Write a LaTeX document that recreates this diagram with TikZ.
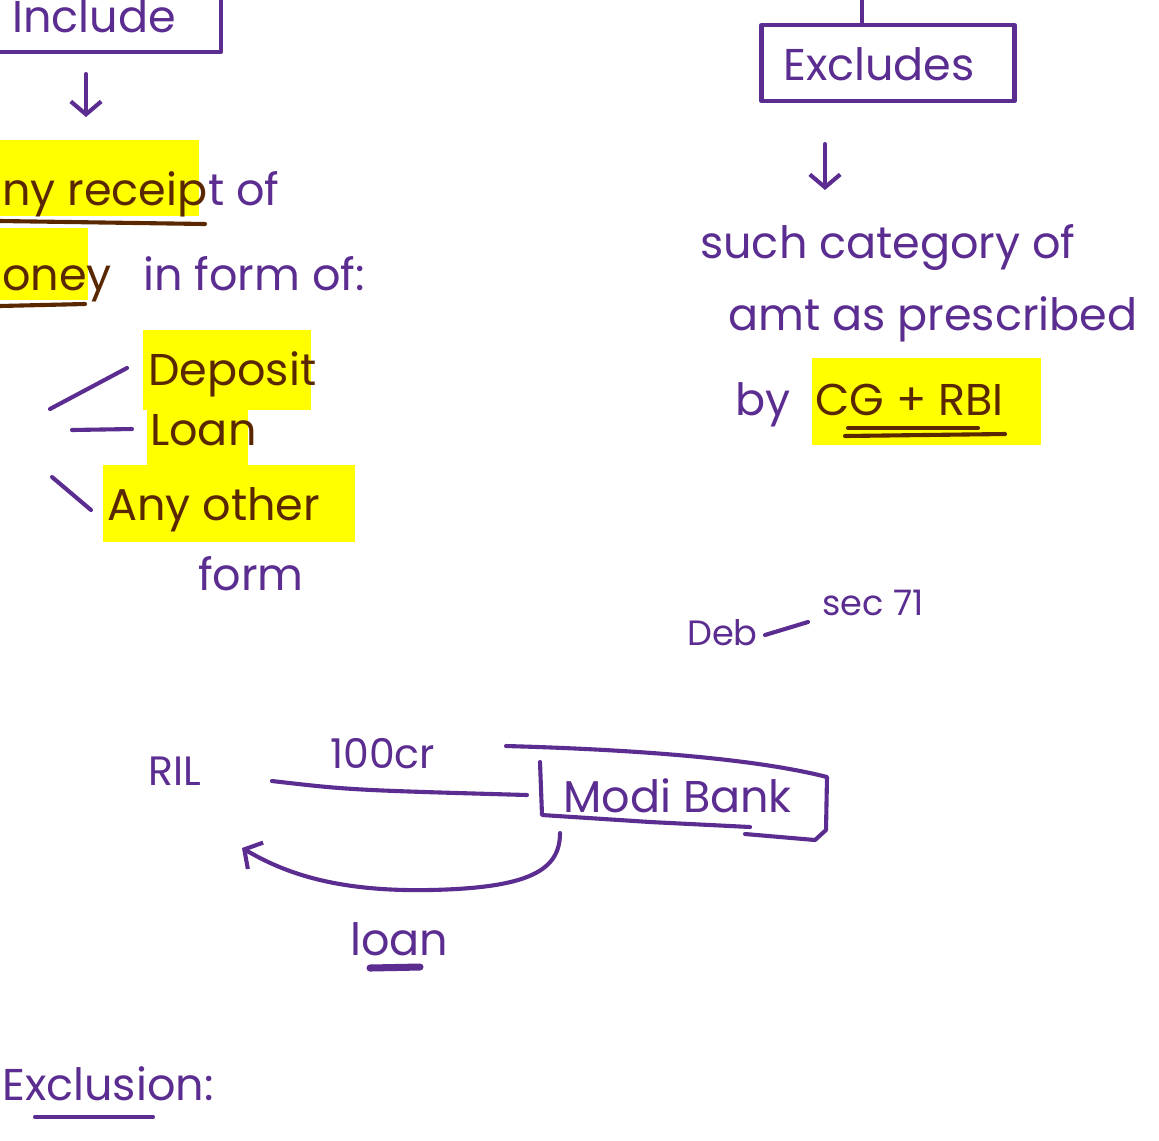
\documentclass[tikz,border=0pt]{standalone}
\usepackage{fontspec}
\setmainfont{Poppins}
\usetikzlibrary{arrows.meta}
\definecolor{ink}{RGB}{92,45,145}
\definecolor{brownink}{RGB}{90,40,0}
\definecolor{hlyellow}{RGB}{255,255,0}

\begin{document}
\begin{tikzpicture}[x=0.03cm,y=-0.03cm,
  pen/.style={draw=ink,line width=3.5pt,line cap=round,line join=round},
  brownpen/.style={draw=brownink,line width=3.5pt,line cap=round},
  txt/.style={text=ink,font=\fontsize{38}{44}\selectfont,inner sep=0pt,anchor=base west},
  small/.style={txt,font=\fontsize{30}{36}\selectfont},
  mid/.style={txt,font=\fontsize{35}{40}\selectfont},
  brn/.style={txt,text=brownink},
  hl/.style={fill=hlyellow},
  boxed/.style={pen,inner sep=0pt},
  tip/.style={-{Straight Barb[length=11pt,width=26pt,line width=3.5pt]}}
]
	\clip (0,0) rectangle (1159,1140);
	\fill[white] (0,0) rectangle (1159,1140);

	\fill[hl] (0,140) rectangle (199,216);
	\fill[hl] (0,228) rectangle (88,300);
	\fill[hl] (143,330) rectangle (311,410);
	\fill[hl] (147,405) rectangle (248,470);
	\fill[hl] (103,465) rectangle (355,542);
	\fill[hl] (812,358) rectangle (1041,445);

	\draw[pen] (-60,-40) rectangle (221,52);
	\node[txt] (incl) at (12,32) {Include};
	\coordinate (inclArrowS) at (86,74);
	\coordinate (inclArrowE) at (86,117);
	\draw[pen,tip] (inclArrowS) -- (inclArrowE);

	\node[brn] (receipt) at (2,205) {ny receip};
	\node[txt] (receiptOf) at (receipt.base east) {t of};
	\draw[brownpen] (0,221) -- (205,224);
	\node[brn] (money) at (2,290) {oney};
	\node[txt] (inForm) at (143,290) {in form of:};
	\draw[brownpen] (0,306) -- (85,304);

	\node[brn] (deposit) at (148,385) {Deposit};
	\node[brn] (loanA) at (150,445) {Loan};
	\node[brn] (anyOther) at (107,520) {Any other};
	\node[txt] (form) at (198,590) {form};
	\coordinate (brA) at (50,409);
	\coordinate (brB) at (72,430);
	\coordinate (brC) at (52,477);
	\draw[pen] (brA) -- (127,368);
	\draw[pen] (brB) -- (132,429);
	\draw[pen] (brC) -- (91,510);

	\node[boxed,minimum width=7.59cm,minimum height=2.28cm] (excl) at (888,63) {};
	\node[txt] (exclText) at (783,80) {Excludes};
	\coordinate (exclTop) at (862,0);
	\draw[pen] (exclTop) -- (exclTop |- excl.north);
	\coordinate (exclArrowS) at (825,144);
	\coordinate (exclArrowE) at (825,190);
	\draw[pen,tip] (exclArrowS) -- (exclArrowE);

	\node[txt] (such) at (700,258) {such category of};
	\node[txt] (amt) at (728,330) {amt as prescribed};
	\node[txt] (by) at (735,415) {by};
	\node[brn] (cgrbi) at (815,415) {CG + RBI};
	\draw[brownpen] (848,428) -- (978,428);
	\draw[brownpen] (845,436) -- (1005,434);

	\node[small] (deb) at (687,645) {Deb};
	\node[small] (sec) at (822,615) {sec 71};
	\coordinate (debLineS) at (765,635);
	\coordinate (debLineE) at (808,622);
	\draw[pen] (debLineS) -- (debLineE);

	\node[mid] (ril) at (148,785) {RIL};
	\node[mid] (amount) at (330,768) {100cr};
	\node[txt] (modi) at (563,812) {Modi Bank};
	\coordinate (rilLineS) at (272,781);
	\coordinate (rilLineE) at (527,795);
	\draw[pen] (rilLineS) .. controls (350,790) .. (rilLineE);
	\draw[pen] (506,746) .. controls (650,750) and (760,760) .. (827,777) -- (826,830) -- (815,840) -- (745,834);
	\draw[pen] (540,762) -- (542,815) -- (650,822) -- (750,827);

	\coordinate (loanArrowS) at (560,833);
	\coordinate (loanArrowE) at (242,848);
	\draw[pen,tip] (loanArrowS) .. controls (560,870) and (530,888) .. (430,890) .. controls (330,892) and (280,870) .. (loanArrowE);
	\node[txt] (loanB) at (350,955) {loan};
	\draw[pen,line width=6pt] (370,968) -- (420,967);

	\node[txt] (exclusion) at (2,1100) {Exclusion:};
	\draw[pen] (35,1117) -- (153,1117);

\end{tikzpicture}
\end{document}
